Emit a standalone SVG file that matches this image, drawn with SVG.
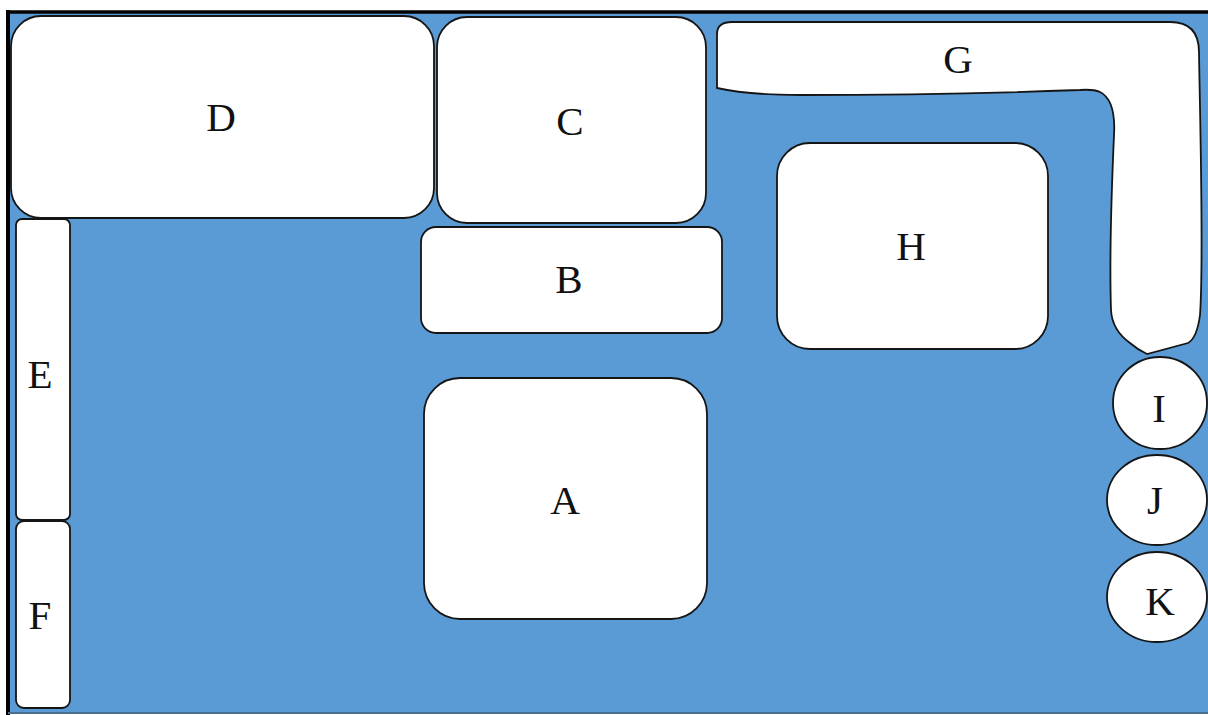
<svg xmlns="http://www.w3.org/2000/svg" width="1208" height="715" viewBox="0 0 1208 715">
<style>
.s{fill:#ffffff;stroke:#151515;stroke-width:1.8}
.t{font-family:"Liberation Serif","Times New Roman",serif;font-size:41px;fill:#111;text-anchor:middle}
</style>
<rect x="0" y="0" width="1208" height="715" fill="#ffffff"/>
<rect x="8" y="12" width="1200" height="700" fill="#5b9bd5"/>
<line x1="8" y1="12" x2="1208" y2="12" stroke="#000" stroke-width="3.5"/>
<line x1="8" y1="10" x2="8" y2="715" stroke="#000" stroke-width="4"/>
<line x1="8" y1="713" x2="1208" y2="713" stroke="#4d6f8f" stroke-width="2"/>
<g id="D"><rect class="s" x="11" y="16" width="423" height="202" rx="30"/><text class="t" x="221" y="131">D</text></g>
<g id="C"><rect class="s" x="437" y="17" width="269" height="206" rx="30"/><text class="t" x="570" y="135">C</text></g>
<g id="B"><rect class="s" x="421" y="227" width="301" height="106" rx="15"/><text class="t" x="569" y="293">B</text></g>
<g id="A"><rect class="s" x="424" y="378" width="283" height="241" rx="36"/><text class="t" x="565" y="514">A</text></g>
<g id="E"><rect class="s" x="16" y="219" width="54" height="301" rx="6"/><text class="t" x="40" y="388">E</text></g>
<g id="F"><rect class="s" x="16" y="521" width="54" height="187" rx="8"/><text class="t" x="40" y="629">F</text></g>
<g id="H"><rect class="s" x="777" y="143" width="271" height="206" rx="33"/><text class="t" x="911" y="260">H</text></g>
<g id="G"><path class="s" d="M717,34 Q717,22 732,22 L1170,22 Q1199,22 1199,52 C1200,120 1204,260 1200,315 Q1197,338 1188,343 L1147,354 Q1138,350 1130,343 Q1112,330 1111,310 C1109,250 1112,180 1114,135 Q1116,100 1100,92 Q1093,89 1080,90 C1000,93 900,95 800,95 C760,95 735,92 717,88 Z"/><text class="t" x="958" y="73">G</text></g>
<g id="I"><ellipse class="s" cx="1160" cy="403" rx="47" ry="46"/><text class="t" x="1159" y="422">I</text></g>
<g id="J"><ellipse class="s" cx="1157" cy="500" rx="50" ry="45"/><text class="t" x="1155" y="514">J</text></g>
<g id="K"><ellipse class="s" cx="1157" cy="597" rx="50" ry="45"/><text class="t" x="1160" y="615">K</text></g>
<g id="connectors"></g>
</svg>
